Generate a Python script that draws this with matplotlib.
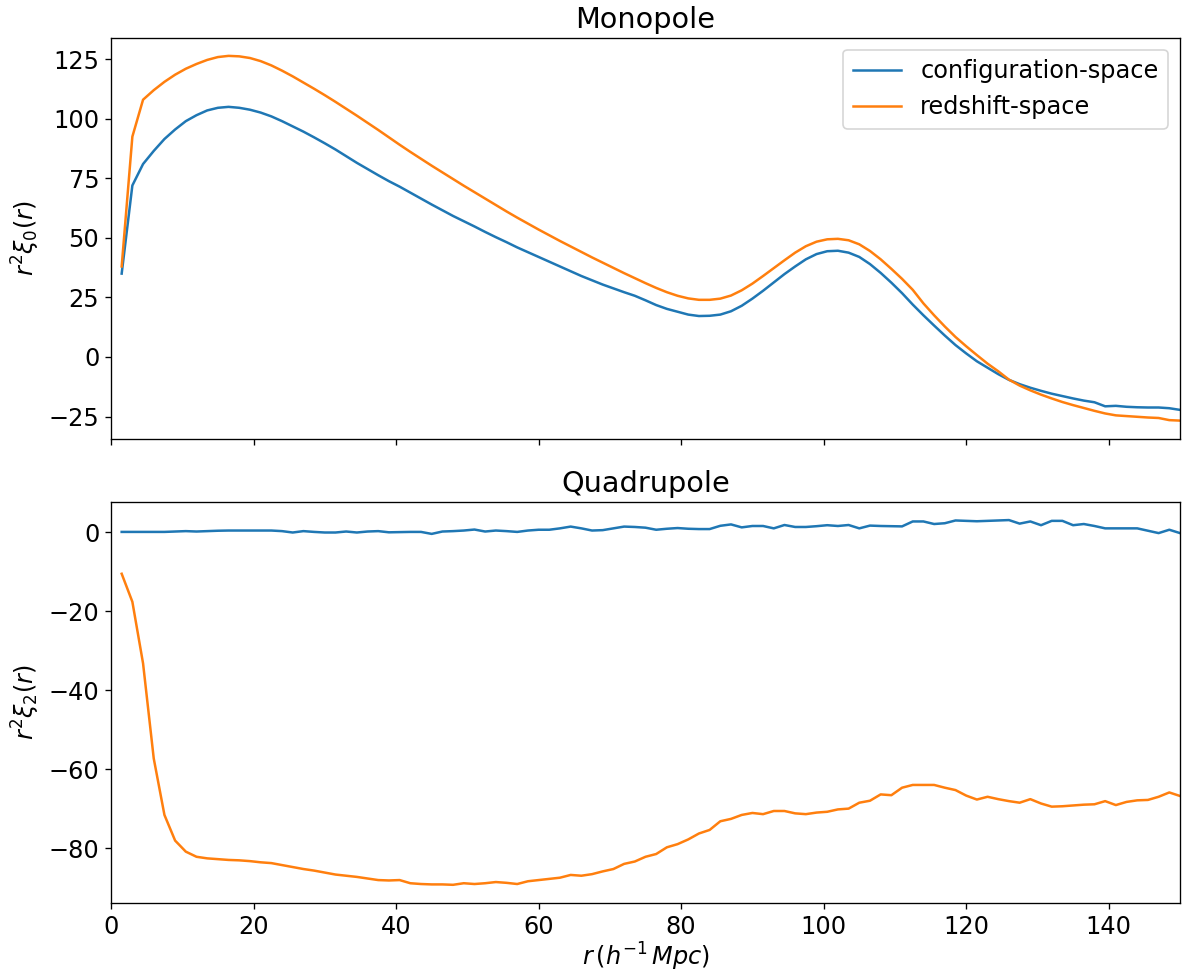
import numpy as np
import matplotlib
matplotlib.use("Agg")
import matplotlib.pyplot as plt

# separation bins, h^-1 Mpc
r_step = 1.5
r = r_step * np.arange(1, 101)

# monopole r^2 xi_0(r)
xi0_config = [
    35, 72, 81, 86.5, 91.5, 95.5, 99, 101.5, 103.5, 104.6,
    105, 104.6, 103.8, 102.6, 101, 99, 96.8, 94.6, 92.2, 89.7,
    87.1, 84.3, 81.5, 78.9, 76.3, 73.8, 71.5, 69, 66.5, 64,
    61.6, 59.2, 57, 54.8, 52.5, 50.3, 48.2, 46, 44, 42,
    40, 38, 36, 34, 32.2, 30.4, 28.8, 27.2, 25.7, 23.8,
    21.8, 20.2, 19, 17.8, 17.2, 17.3, 17.8, 19.2, 21.5, 24.5,
    27.8, 31.3, 34.8, 38, 41, 43.2, 44.4, 44.6, 43.8, 42,
    39, 35.3, 31.2, 26.8, 22, 17.5, 13.2, 9, 5, 1.5,
    -1.8, -4.5, -7.2, -9.6, -11.4, -12.9, -14.2, -15.4, -16.4, -17.4,
    -18.3, -19, -20.7, -20.5, -20.9, -21.1, -21.2, -21.2, -21.5, -22.2,
]
xi0_redshift = [
    38, 92.5, 108, 112, 115.5, 118.5, 121, 123, 124.7, 125.9,
    126.4, 126.2, 125.5, 124.2, 122.4, 120.2, 117.8, 115.2, 112.6, 109.9,
    107.1, 104.2, 101.3, 98.3, 95.3, 92.2, 89.1, 86.1, 83.2, 80.3,
    77.5, 74.7, 71.9, 69.2, 66.5, 63.8, 61.1, 58.5, 56, 53.5,
    51.1, 48.7, 46.4, 44.1, 41.8, 39.6, 37.4, 35.2, 33.1, 31,
    29, 27.2, 25.7, 24.6, 24, 24, 24.5, 25.8, 28, 30.8,
    34, 37.3, 40.6, 43.8, 46.5, 48.4, 49.4, 49.6, 49, 47.3,
    44.5, 41, 37, 32.8, 28.2, 22.5, 17.5, 12.8, 8.4, 4.5,
    0.8, -2.8, -6, -9.5, -12, -14, -15.8, -17.4, -18.9, -20.2,
    -21.4, -22.6, -23.7, -24.5, -24.8, -25.1, -25.4, -25.6, -26.5, -26.7,
]

# quadrupole r^2 xi_2(r)
xi2_config = [
    0.1, 0.1, 0.1, 0.1, 0.1, 0.2, 0.3, 0.2, 0.3, 0.4,
    0.45, 0.45, 0.45, 0.45, 0.45, 0.3, -0.05, 0.3, 0.1, -0.05,
    -0.05, 0.2, -0.05, 0.2, 0.3, 0.0, 0.05, 0.1, 0.1, -0.4,
    0.2, 0.3, 0.45, 0.7, 0.2, 0.45, 0.3, 0.1, 0.45, 0.65,
    0.65, 1.0, 1.45, 1.0, 0.45, 0.55, 1.0, 1.45, 1.35, 1.17,
    0.65, 0.9, 1.08, 0.9, 0.82, 0.82, 1.65, 2.0, 1.25, 1.6,
    1.6, 1.0, 1.85, 1.35, 1.35, 1.55, 1.8, 1.6, 1.85, 1.0,
    1.7, 1.6, 1.55, 1.5, 2.75, 2.75, 2.1, 2.3, 3.0, 2.9,
    2.8, 2.9, 3.0, 3.1, 2.2, 2.75, 1.8, 2.9, 2.9, 1.8,
    2.1, 1.6, 1.0, 1.0, 1.0, 1.0, 0.4, -0.2, 0.65, -0.2,
]
xi2_redshift = [
    -10.5, -17.6, -33.2, -57.3, -71.6, -78.1, -80.9, -82.2, -82.6, -82.8,
    -83.0, -83.1, -83.3, -83.6, -83.8, -84.3, -84.8, -85.3, -85.7, -86.2,
    -86.7, -87.0, -87.3, -87.7, -88.1, -88.2, -88.1, -88.9, -89.1, -89.2,
    -89.2, -89.3, -88.9, -89.1, -88.9, -88.6, -88.8, -89.1, -88.4, -88.1,
    -87.8, -87.5, -86.8, -87.0, -86.6, -85.9, -85.3, -84.0, -83.4, -82.2,
    -81.5, -79.8, -79.0, -77.8, -76.3, -75.4, -73.2, -72.6, -71.6, -71.1,
    -71.4, -70.6, -70.6, -71.2, -71.4, -71.0, -70.8, -70.2, -70.0, -68.5,
    -68.0, -66.4, -66.6, -64.7, -64.0, -64.0, -64.0, -64.7, -65.3, -66.7,
    -67.7, -67.0, -67.6, -68.1, -68.5, -67.6, -68.7, -69.5, -69.4, -69.2,
    -69.0, -68.9, -68.1, -69.1, -68.3, -67.9, -67.8, -67.0, -65.9, -66.8,
]

plt.rcParams['font.size'] = 14.4

fig, (ax0, ax1) = plt.subplots(2, 1, sharex=True, figsize=(1187 / 120, 975 / 120), dpi=120)
fig.subplots_adjust(left=0.0935, right=0.9941, top=0.9614, bottom=0.0738, hspace=0.157)

ax0.plot(r, xi0_config, label='configuration-space')
ax0.plot(r, xi0_redshift, label='redshift-space')
ax0.set_title('Monopole')
ax0.set_ylabel(r'$r^2\xi_0(r)$')
ax0.legend(loc='upper right')

ax1.plot(r, xi2_config)
ax1.plot(r, xi2_redshift)
ax1.set_title('Quadrupole')
ax1.set_ylabel(r'$r^2\xi_2(r)$')
ax1.set_xlabel(r'$r\,(h^{-1}\,Mpc)$', labelpad=1)
ax1.set_xlim(0, 150)

fig.savefig('out.png', dpi=120)
